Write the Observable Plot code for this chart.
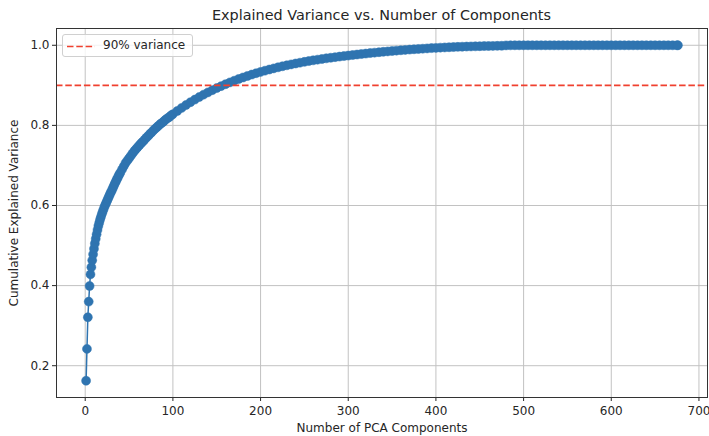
<!DOCTYPE html>
<html>
<head>
<meta charset="utf-8">
<script src="https://cdn.jsdelivr.net/npm/d3@7"></script>
<script src="https://cdn.jsdelivr.net/npm/@observablehq/plot@0.6"></script>
<style>
  html, body { margin: 0; padding: 0; background: #ffffff; }
  #wrap { position: relative; width: 709px; height: 436px; font-family: "DejaVu Sans", sans-serif; color: #262626; }
  #title { position: absolute; left: 56px; width: 651px; top: 0; height: 28px; line-height: 30px; text-align: center; font-size: 14.4px; }
  #chart { position: absolute; left: 0; top: 28px; }
  #legend { position: absolute; left: 62px; top: 34px; width: 131px; height: 23px; box-sizing: border-box;
            border: 1px solid #d0d0d0; border-radius: 3px; background: rgba(255,255,255,0.8); }
  #legend svg { position: absolute; left: 4px; top: 10px; }
  #legend span { position: absolute; left: 40px; top: 0; line-height: 21px; font-size: 12px; white-space: nowrap; }
</style>
</head>
<body>
<div id="wrap">
  <div id="title"></div>
  <div id="chart"></div>
  <div id="legend"><svg width="28" height="3"><line x1="0" x2="28" y1="1.5" y2="1.5" stroke="#f0402f" stroke-width="1.6" stroke-dasharray="6.5,2.8"/></svg><span id="legendText"></span></div>
</div>
<script>
const titleText = "Explained Variance vs. Number of Components";
const xLabel = "Number of PCA Components";
const yLabel = "Cumulative Explained Variance";
const legendLabel = "90% variance";
const threshold = 0.9;

const components = [
  1,2,3,4,5,6,7,8,9,10,11,12,13,14,15,16,17,18,19,20,
  21,22,23,24,25,26,27,28,29,30,31,32,33,34,35,36,37,38,39,40,
  42,44,46,48,50,52,54,56,58,60,62,64,66,68,70,72,74,76,78,80,
  82,84,86,88,90,92,94,96,98,100,
  105,110,115,120,125,130,135,140,145,150,155,160,165,170,175,180,185,190,195,200,
  205,210,215,220,225,230,235,240,245,250,255,260,265,270,275,280,285,290,295,300,
  305,310,315,320,325,330,335,340,345,350,355,360,365,370,375,380,385,390,395,400,
  405,410,415,420,425,430,435,440,445,450,455,460,465,470,475,480,485,490,495,500,
  505,510,515,520,525,530,535,540,545,550,555,560,565,570,575,580,585,590,595,600,
  605,610,615,620,625,630,635,640,645,650,655,660,665,670,675,676
];

const cumulativeVariance = [
  0.1625,0.242,0.321,0.360,0.399,0.428,0.446,0.463,0.478,0.492,0.505,0.517,0.528,0.539,0.549,0.557,0.565,0.572,0.579,0.585,
  0.591,0.597,0.602,0.607,0.612,0.617,0.622,0.627,0.632,0.636,0.641,0.646,0.651,0.656,0.660,0.665,0.669,0.674,0.678,0.682,
  0.690,0.698,0.706,0.712,0.718,0.724,0.730,0.736,0.741,0.746,0.751,0.756,0.760,0.765,0.770,0.774,0.779,0.783,0.788,0.792,
  0.796,0.800,0.804,0.807,0.811,0.815,0.818,0.821,0.825,0.828,
  0.836,0.8436,0.8509,0.8578,0.8644,0.8707,0.8767,0.8824,0.8879,0.8931,0.898,0.9028,0.9073,0.9116,0.9157,0.9196,0.9233,0.9269,0.9303,0.9335,
  0.9366,0.9395,0.9423,0.945,0.9476,0.95,0.9523,0.9545,0.9566,0.9586,0.9606,0.9624,0.9641,0.9658,0.9674,0.9689,0.9703,0.9717,0.973,0.9743,
  0.9756,0.9769,0.9781,0.9793,0.9805,0.9816,0.9827,0.9837,0.9847,0.9857,0.9866,0.9875,0.9884,0.9892,0.99,0.9908,0.9915,0.9922,0.9929,0.9935,
  0.9941,0.9946,0.9951,0.9956,0.996,0.9964,0.9968,0.9971,0.9974,0.9977,0.998,0.9982,0.9984,0.9986,0.9988,0.9997,0.9999,1.0,1.0,1.0,
  1.0,1.0,1.0,1.0,1.0,1.0,1.0,1.0,1.0,1.0,1.0,1.0,1.0,1.0,1.0,1.0,1.0,1.0,1.0,1.0,
  1.0,1.0,1.0,1.0,1.0,1.0,1.0,1.0,1.0,1.0,1.0,1.0,1.0,1.0,1.0,1.0
];

const xTicks = [0, 100, 200, 300, 400, 500, 600, 700];
const yTicks = [0.2, 0.4, 0.6, 0.8, 1.0];

const data = components.map((c, i) => ({n: c, v: cumulativeVariance[i]}));

const blue = "#2f74b0";
const red = "#f0402f";
const gridColor = "#c2c2c2";

document.getElementById("title").textContent = titleText;
document.getElementById("legendText").textContent = legendLabel;

const nMin = d3.min(components), nMax = d3.max(components);
const vMin = d3.min(cumulativeVariance), vMax = d3.max(cumulativeVariance);
const xPad = (nMax - nMin) * 0.05, yPad = (vMax - vMin) * 0.05;

const chart = Plot.plot({
  width: 709,
  height: 408,
  marginTop: 0,
  marginBottom: 39,
  marginLeft: 56,
  marginRight: 2,
  style: {fontFamily: "DejaVu Sans, sans-serif", fontSize: "12px", color: "#262626", background: "#ffffff", display: "block", overflow: "visible"},
  x: {domain: [nMin - xPad, nMax + xPad], ticks: xTicks, tickSize: 4, tickPadding: 5, label: null, tickFormat: d3.format("d")},
  y: {domain: [vMin - yPad, vMax + yPad], ticks: yTicks, tickSize: 4, tickPadding: 3, label: null, tickFormat: d3.format(".1f")},
  marks: [
    Plot.ruleX(xTicks, {stroke: gridColor, strokeWidth: 1}),
    Plot.ruleY(yTicks, {stroke: gridColor, strokeWidth: 1}),
    Plot.line(data, {x: "n", y: "v", stroke: blue, strokeWidth: 1.5}),
    Plot.dot(data, {x: "n", y: "v", r: 4.5, fill: blue, stroke: blue, strokeWidth: 0.5}),
    Plot.ruleY([threshold], {stroke: red, strokeWidth: 1.6, strokeDasharray: "6.5,2.8"}),
    Plot.frame({stroke: "#333333", strokeWidth: 1}),
    Plot.text([yLabel], {text: d => d, frameAnchor: "left", textAnchor: "middle", dx: -42, rotate: -90, fontSize: 12, fill: "#262626"}),
    Plot.text([xLabel], {text: d => d, frameAnchor: "bottom", dy: 34, fontSize: 12, fill: "#262626"})
  ]
});
document.getElementById("chart").appendChild(chart);
</script>
</body>
</html>
